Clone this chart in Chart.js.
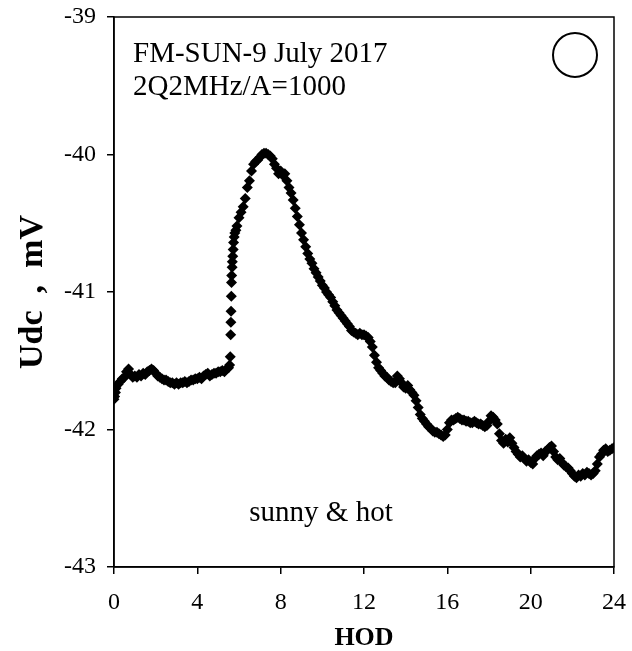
<!DOCTYPE html>
<html lang="en">
  <head>
    <meta charset="UTF-8" />
    <title>FM-SUN Udc</title>
    <script src="https://cdn.jsdelivr.net/npm/chart.js"></script>
    <style>
      body {
        margin: 0;
        background: #fff;
      }
      #wrap {
        width: 632px;
        height: 651px;
      }
    </style>
  </head>
  <body>
    <div id="wrap"><canvas id="udcChart" width="632" height="651"></canvas></div>
    <script>
      // hour of day
      const hod = [
        0, 0.03, 0.07, 0.1, 0.2, 0.3, 0.4, 0.5, 0.6, 0.7, 0.8, 0.9, 1.0,
        1.1, 1.2, 1.3, 1.4, 1.5, 1.6, 1.7, 1.8, 1.9, 2.0,
        2.1, 2.2, 2.3, 2.4, 2.5, 2.6, 2.7, 2.8, 2.9, 3.0,
        3.1, 3.2, 3.3, 3.4, 3.5, 3.6, 3.7, 3.8, 3.9, 4.0,
        4.1, 4.2, 4.3, 4.4, 4.5, 4.6, 4.7, 4.8, 4.9, 5.0,
        5.1, 5.2, 5.3, 5.4, 5.5, 5.55, 5.58, 5.6, 5.61, 5.62, 5.63, 5.64,
        5.65, 5.67, 5.68, 5.7, 5.72, 5.74, 5.77, 5.8, 5.85, 5.9, 6.0,
        6.1, 6.2, 6.3, 6.4, 6.5, 6.6, 6.7, 6.8, 6.9, 7.0,
        7.1, 7.2, 7.3, 7.4, 7.5, 7.6, 7.7, 7.8, 7.9, 8.0,
        8.1, 8.2, 8.3, 8.4, 8.5, 8.6, 8.7, 8.8, 8.9, 9.0,
        9.1, 9.2, 9.3, 9.4, 9.5, 9.6, 9.7, 9.8, 9.9, 10.0,
        10.1, 10.2, 10.3, 10.4, 10.5, 10.6, 10.7, 10.8, 10.9, 11.0,
        11.1, 11.2, 11.3, 11.4, 11.5, 11.6, 11.7, 11.8, 11.9, 12.0,
        12.1, 12.2, 12.3, 12.4, 12.5, 12.6, 12.7, 12.8, 12.9, 13.0,
        13.1, 13.2, 13.3, 13.4, 13.5, 13.6, 13.7, 13.8, 13.9, 14.0,
        14.1, 14.2, 14.3, 14.4, 14.5, 14.6, 14.7, 14.8, 14.9, 15.0,
        15.1, 15.2, 15.3, 15.4, 15.5, 15.6, 15.7, 15.8, 15.9, 16.0,
        16.1, 16.2, 16.3, 16.4, 16.5, 16.6, 16.7, 16.8, 16.9, 17.0,
        17.1, 17.2, 17.3, 17.4, 17.5, 17.6, 17.7, 17.8, 17.9, 18.0,
        18.1, 18.2, 18.3, 18.4, 18.5, 18.6, 18.7, 18.8, 18.9, 19.0,
        19.1, 19.2, 19.3, 19.4, 19.5, 19.6, 19.7, 19.8, 19.9, 20.0,
        20.1, 20.2, 20.3, 20.4, 20.5, 20.6, 20.7, 20.8, 20.9, 21.0,
        21.1, 21.2, 21.3, 21.4, 21.5, 21.6, 21.7, 21.8, 21.9, 22.0,
        22.1, 22.2, 22.3, 22.4, 22.5, 22.6, 22.7, 22.8, 22.9, 23.0,
        23.1, 23.2, 23.3, 23.4, 23.5, 23.6, 23.7, 23.8, 23.9, 24.0
      ];

      // Udc, mV
      const udc = [
        -41.78, -41.76, -41.73, -41.7, -41.67, -41.65, -41.63, -41.62, -41.58, -41.56, -41.6, -41.62, -41.61,
        -41.62, -41.6, -41.61, -41.59, -41.6, -41.58, -41.57, -41.56, -41.57, -41.59,
        -41.61, -41.62, -41.63, -41.64, -41.64, -41.65, -41.66, -41.66, -41.67, -41.66,
        -41.67, -41.66, -41.66, -41.65, -41.66, -41.65, -41.64, -41.64, -41.63, -41.63,
        -41.62, -41.63, -41.61, -41.6, -41.59, -41.61, -41.6, -41.59, -41.59, -41.58,
        -41.58, -41.57, -41.58, -41.56, -41.55, -41.53, -41.47, -41.31, -41.22, -41.14, -41.03, -40.93,
        -40.88, -40.82, -40.78, -40.74, -40.69, -40.64, -40.6, -40.57, -40.55, -40.52, -40.46,
        -40.42, -40.38, -40.32, -40.24, -40.19, -40.12, -40.07, -40.05, -40.04, -40.02,
        -40.0, -39.99, -39.99, -40.0, -40.01, -40.03, -40.07, -40.1, -40.14, -40.12,
        -40.15, -40.14, -40.19, -40.24, -40.28, -40.33, -40.39, -40.45, -40.51, -40.57,
        -40.62, -40.67, -40.72, -40.76, -40.79, -40.83, -40.86, -40.89, -40.92, -40.95,
        -40.97, -41.0, -41.02, -41.04, -41.07, -41.1, -41.13, -41.15, -41.17, -41.19,
        -41.21, -41.23, -41.25, -41.28, -41.29, -41.3, -41.31, -41.3, -41.31, -41.31,
        -41.32, -41.33, -41.36, -41.4, -41.46, -41.51, -41.55, -41.57, -41.59, -41.61,
        -41.62, -41.64, -41.65, -41.66, -41.66, -41.61, -41.63, -41.66, -41.69, -41.7,
        -41.68, -41.71, -41.73, -41.75, -41.79, -41.84, -41.89, -41.92, -41.94, -41.96,
        -41.98, -41.99, -42.01, -42.02, -42.02, -42.03, -42.04, -42.05, -42.04, -42.0,
        -41.95, -41.93, -41.93, -41.92, -41.91, -41.92, -41.93, -41.93, -41.94, -41.94,
        -41.95, -41.95, -41.94, -41.95, -41.96, -41.96, -41.97, -41.98, -41.97, -41.94,
        -41.9, -41.91, -41.93, -41.96, -42.03, -42.08, -42.1, -42.07, -42.09, -42.06,
        -42.1, -42.13, -42.16, -42.18, -42.2, -42.19, -42.21, -42.23, -42.22, -42.24,
        -42.25, -42.21, -42.19, -42.18, -42.17, -42.19, -42.16, -42.15, -42.13, -42.12,
        -42.16, -42.2, -42.22, -42.21, -42.24, -42.26, -42.27, -42.28, -42.3, -42.32,
        -42.34, -42.35, -42.33, -42.34, -42.32, -42.33, -42.31, -42.32, -42.33, -42.32,
        -42.3, -42.25, -42.2, -42.18, -42.15, -42.14, -42.16, -42.15, -42.14, -42.13
      ];

      const xTicks = [0, 4, 8, 12, 16, 20, 24];
      const yTicks = [-43, -42, -41, -40, -39];

      const serif = "'Liberation Serif', 'Times New Roman', serif";

      // box around the plot and the text inside it
      const frameAndNotes = {
        id: "frameAndNotes",
        afterDraw(chart) {
          const { ctx, chartArea: a } = chart;
          ctx.save();
          ctx.strokeStyle = "#000";
          ctx.lineWidth = 1.5;
          ctx.strokeRect(a.left, a.top, a.right - a.left, a.bottom - a.top);

          ctx.fillStyle = "#000";
          ctx.font = "29px " + serif;
          ctx.textAlign = "left";
          ctx.textBaseline = "middle";
          ctx.fillText("FM-SUN-9 July 2017", a.left + 19, 54);
          ctx.fillText("2Q2MHz/A=1000", a.left + 19, 87);
          ctx.textAlign = "center";
          ctx.fillText("sunny & hot", 321, 513);

          ctx.lineWidth = 2;
          ctx.beginPath();
          ctx.arc(575, 55, 22, 0, Math.PI * 2);
          ctx.stroke();
          ctx.restore();
        },
      };

      new Chart(document.getElementById("udcChart"), {
        type: "scatter",
        data: {
          datasets: [
            {
              data: hod.map((h, i) => ({ x: h, y: udc[i] })),
              pointStyle: "rectRot",
              pointRadius: 5.5,
              pointBackgroundColor: "#000",
              pointBorderWidth: 0,
              showLine: false,
            },
          ],
        },
        options: {
          responsive: false,
          animation: false,
          events: [],
          layout: { padding: { top: 17, right: 18, left: 0, bottom: 0 } },
          plugins: { legend: { display: false }, tooltip: { enabled: false } },
          scales: {
            x: {
              type: "linear",
              min: 0,
              max: 24,
              afterFit: (s) => {
                s.height = 84;
                s.paddingLeft = 0;
                s.paddingRight = 0;
              },
              afterBuildTicks: (s) => { s.ticks = xTicks.map((v) => ({ value: v })); },
              grid: { drawOnChartArea: false, tickLength: 7, color: "#000", lineWidth: 1.5 },
              border: { color: "#000", width: 1.5 },
              ticks: { color: "#000", padding: 14, maxRotation: 0, font: { family: serif, size: 24 } },
              title: {
                display: true,
                text: "HOD",
                color: "#000",
                padding: 0,
                font: { family: serif, size: 26, weight: "bold", lineHeight: 1 },
              },
            },
            y: {
              type: "linear",
              min: -43,
              max: -39,
              afterFit: (s) => {
                s.width = 114;
                s.paddingTop = 0;
                s.paddingBottom = 0;
              },
              afterBuildTicks: (s) => { s.ticks = yTicks.map((v) => ({ value: v })); },
              grid: { drawOnChartArea: false, tickLength: 7, color: "#000", lineWidth: 1.5 },
              border: { color: "#000", width: 1.5 },
              ticks: { color: "#000", padding: 11, font: { family: serif, size: 24 } },
              title: {
                display: true,
                text: "Udc  ,  mV",
                color: "#000",
                padding: { top: 16, bottom: 0 },
                font: { family: serif, size: 34, weight: "bold", lineHeight: 1 },
              },
            },
          },
        },
        plugins: [frameAndNotes],
      });
    </script>
  </body>
</html>
